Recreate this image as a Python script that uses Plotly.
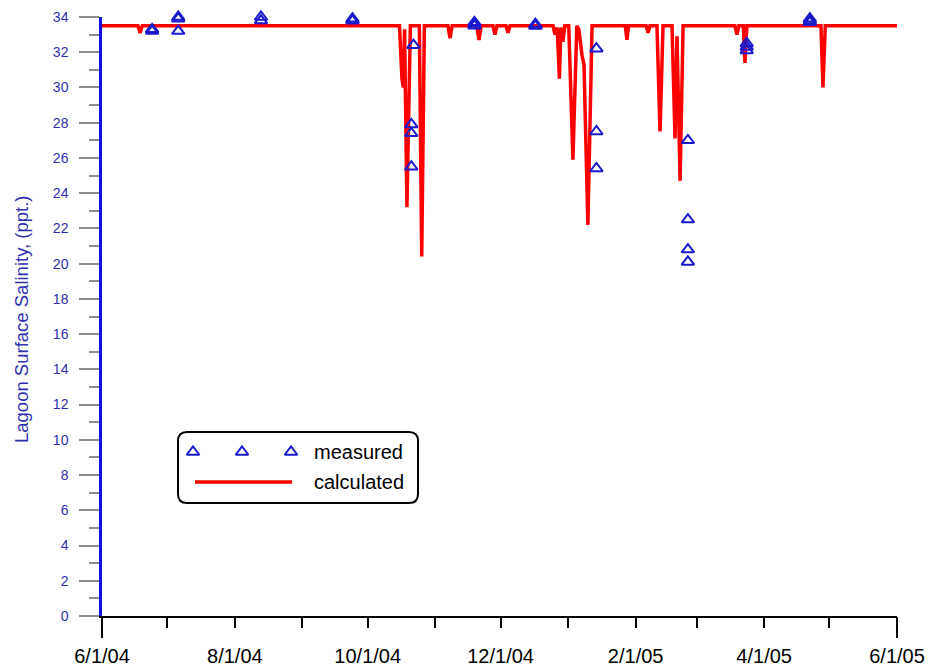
import plotly.graph_objects as go

# ---------------- data ----------------
measured_dates = [
    "2004-06-24", "2004-06-24",
    "2004-07-06", "2004-07-06", "2004-07-06",
    "2004-08-13", "2004-08-13", "2004-08-13",
    "2004-09-24", "2004-09-24", "2004-09-24",
    "2004-10-22", "2004-10-21", "2004-10-21", "2004-10-21",
    "2004-11-19", "2004-11-19", "2004-11-19",
    "2004-12-17", "2004-12-17", "2004-12-17",
    "2005-01-14", "2005-01-14", "2005-01-14",
    "2005-02-25", "2005-02-25", "2005-02-25", "2005-02-25",
    "2005-03-24", "2005-03-24", "2005-03-24",
    "2005-04-22", "2005-04-22", "2005-04-22",
]
measured_values = [
    33.3, 33.2,
    34.0, 33.9, 33.2,
    34.1, 34.0, 33.8,
    33.9, 33.8, 33.8,
    32.4, 27.9, 27.4, 25.5,
    33.7, 33.5, 33.6,
    33.6, 33.5, 33.5,
    32.2, 27.5, 25.4,
    27.0, 22.5, 20.8, 20.1,
    32.5, 32.1, 32.3,
    33.9, 33.8, 33.7,
]

calc_dates = [
    "2004-06-01 00:00", "2004-06-17 12:00", "2004-06-18 12:00", "2004-06-19 12:00",
    "2004-10-15 14:00", "2004-10-16 17:00", "2004-10-17 08:00", "2004-10-17 22:00",
    "2004-10-19 00:00", "2004-10-20 14:00", "2004-10-24 17:00", "2004-10-25 19:00",
    "2004-10-27 00:00",
    "2004-11-06 20:00", "2004-11-07 19:00", "2004-11-08 18:00",
    "2004-11-20 02:00", "2004-11-21 02:00", "2004-11-22 02:00",
    "2004-11-27 12:00", "2004-11-28 10:00", "2004-11-29 08:00",
    "2004-12-03 12:00", "2004-12-04 10:00", "2004-12-05 08:00",
    "2004-12-25 02:00", "2004-12-26 00:00", "2004-12-27 00:00", "2004-12-28 00:00",
    "2004-12-28 17:00", "2004-12-29 14:00", "2004-12-30 12:00", "2005-01-01 07:00",
    "2005-01-03 05:00", "2005-01-05 00:00", "2005-01-05 22:00", "2005-01-07 10:00",
    "2005-01-08 07:00", "2005-01-10 02:00", "2005-01-12 00:00",
    "2005-01-27 06:00", "2005-01-28 00:00", "2005-01-28 18:00",
    "2005-02-05 20:00", "2005-02-06 17:00", "2005-02-07 14:00",
    "2005-02-10 19:00", "2005-02-12 05:00", "2005-02-13 14:00", "2005-02-17 17:00",
    "2005-02-19 02:00", "2005-02-20 00:00", "2005-02-21 10:00", "2005-02-22 19:00",
    "2005-03-18 14:00", "2005-03-19 12:00", "2005-03-20 10:00",
    "2005-03-22 10:00", "2005-03-23 05:00", "2005-03-24 02:00",
    "2005-04-27 02:00", "2005-04-28 00:00", "2005-04-29 02:00",
    "2005-06-01 00:00",
]
calc_values = [
    33.5, 33.5, 33.1, 33.5,
    33.5, 30.5, 30.0, 33.3,
    23.2, 33.5, 33.5, 20.4,
    33.5,
    33.5, 32.8, 33.5,
    33.5, 32.7, 33.5,
    33.5, 33.0, 33.5,
    33.5, 33.1, 33.5,
    33.5, 33.0, 33.4, 30.5,
    33.4, 32.6, 33.5, 33.5,
    25.9, 33.5, 33.3, 31.8,
    31.3, 22.2, 33.5,
    33.5, 32.7, 33.5,
    33.5, 33.1, 33.5,
    33.5, 27.5, 33.5, 33.5,
    27.1, 32.9, 24.7, 33.5,
    33.5, 33.0, 33.5,
    33.5, 31.4, 33.5,
    33.5, 30.0, 33.5,
    33.5,
]

x_range = ["2004-06-01", "2005-06-01"]
x_tick_dates = [
    "2004-06-01", "2004-07-01", "2004-08-01", "2004-09-01", "2004-10-01",
    "2004-11-01", "2004-12-01", "2005-01-01", "2005-02-01", "2005-03-01",
    "2005-04-01", "2005-05-01", "2005-06-01",
]
x_tick_labels = ["6/1/04", "", "8/1/04", "", "10/1/04", "", "12/1/04", "",
                 "2/1/05", "", "4/1/05", "", "6/1/05"]
y_range = [0, 34]

legend_labels = ["measured", "calculated"]
y_title = "Lagoon Surface Salinity, (ppt.)"

# ---------------- styles ----------------
FONT = "Arial, Liberation Sans, sans-serif"
RED = "#ff0000"
BLUE = "#1a1acc"
TICKBLUE = "#2f2fae"
MSIZE = 11

fig = go.Figure()

fig.add_trace(go.Scatter(
    x=calc_dates, y=calc_values, mode="lines",
    line=dict(color=RED, width=3.5), name=legend_labels[1],
    showlegend=False, hoverinfo="skip",
))
fig.add_trace(go.Scatter(
    x=measured_dates, y=measured_values, mode="markers",
    marker=dict(symbol="triangle-up-open", size=MSIZE, color=BLUE,
                line=dict(color=BLUE, width=2)),
    name=legend_labels[0], showlegend=False, cliponaxis=False,
))

# legend (custom, pixel-based overlay axes)
fig.add_trace(go.Scatter(
    x=[193, 242, 291], y=[452, 452, 452], xaxis="x3", yaxis="y3",
    mode="markers",
    marker=dict(symbol="triangle-up-open", size=MSIZE, color=BLUE,
                line=dict(color=BLUE, width=2)),
    showlegend=False, hoverinfo="skip",
))
fig.add_trace(go.Scatter(
    x=[195, 292], y=[482, 482], xaxis="x3", yaxis="y3", mode="lines",
    line=dict(color=RED, width=3.5), showlegend=False, hoverinfo="skip",
))
# helper trace for the end-tick overlay axis
fig.add_trace(go.Scatter(
    x=x_range, y=[None, None], xaxis="x2", yaxis="y", mode="lines",
    showlegend=False, hoverinfo="skip",
))

fig.add_shape(
    type="path", xref="x3", yref="y3",
    path="M 187,432 L 409,432 Q 418,432 418,441 L 418,494 Q 418,503 409,503 "
         "L 187,503 Q 178,503 178,494 L 178,441 Q 178,432 187,432 Z",
    line=dict(color="black", width=2), fillcolor="rgba(0,0,0,0)", layer="above",
)
fig.add_annotation(x=312, y=452, xref="x3", yref="y3", text=legend_labels[0],
                   showarrow=False, xanchor="left", yanchor="middle",
                   font=dict(family=FONT, size=20, color="black"))
fig.add_annotation(x=312, y=482, xref="x3", yref="y3", text=legend_labels[1],
                   showarrow=False, xanchor="left", yanchor="middle",
                   font=dict(family=FONT, size=20, color="black"))

fig.add_annotation(x=-0.1019, y=0.4958, xref="paper", yref="paper", text=y_title,
                   showarrow=False, textangle=-90, xanchor="center", yanchor="middle",
                   font=dict(family=FONT, size=18.5, color=TICKBLUE))

fig.update_layout(
    template="none",
    width=931, height=669,
    margin=dict(l=102, r=34, t=17, b=53, autoexpand=False),
    paper_bgcolor="white", plot_bgcolor="white",
    showlegend=False,
    font=dict(family=FONT),
    xaxis=dict(
        range=x_range, type="date", automargin=False,
        tickmode="array", tickvals=x_tick_dates, ticktext=x_tick_labels,
        ticks="outside", ticklen=10, tickwidth=2, tickcolor="black",
        showline=True, linecolor="black", linewidth=2,
        showgrid=False, zeroline=False,
        tickfont=dict(family=FONT, size=20, color="black"),
        ticklabelstandoff=11,
    ),
    xaxis2=dict(
        range=x_range, type="date", overlaying="x", anchor="y", side="bottom",
        automargin=False,
        tickmode="array", tickvals=x_range, showticklabels=False,
        ticks="outside", ticklen=21, tickwidth=2, tickcolor="black",
        showline=False, showgrid=False, zeroline=False,
    ),
    yaxis=dict(
        range=y_range, tick0=0, dtick=2, automargin=False,
        ticks="outside", ticklen=20, tickwidth=1.5, tickcolor="#8c8c8c",
        minor=dict(dtick=1, ticks="outside", ticklen=10, tickwidth=1.5,
                   tickcolor="#8c8c8c", showgrid=False),
        showline=True, linecolor="#1010e0", linewidth=2.5,
        showgrid=False, zeroline=False,
        tickfont=dict(family=FONT, size=14, color=TICKBLUE),
        ticklabelstandoff=8,
    ),
    xaxis3=dict(range=[102, 897], overlaying="x", anchor="y3", visible=False,
                fixedrange=True, automargin=False),
    yaxis3=dict(range=[616, 17], overlaying="y", anchor="x3", visible=False,
                fixedrange=True, automargin=False),
)

fig.write_html(
    "out.html",
    config={"displayModeBar": False},
    post_script="document.body.style.margin='0px';document.body.style.overflow='hidden';",
)
